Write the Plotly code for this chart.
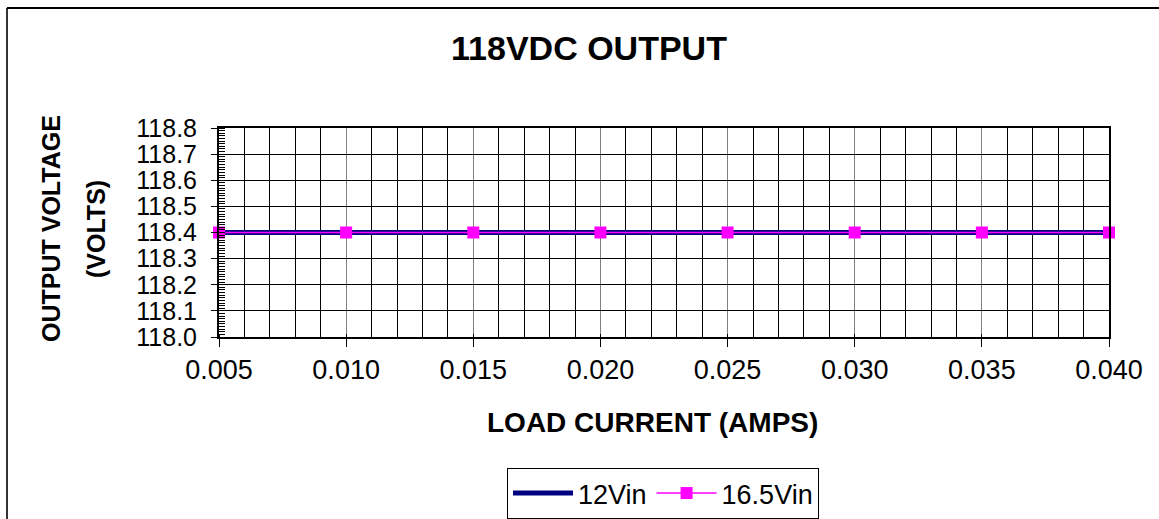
import plotly.graph_objects as go

load_current = [0.005, 0.010, 0.015, 0.020, 0.025, 0.030, 0.035, 0.040]
v_12vin = [118.4, 118.4, 118.4, 118.4, 118.4, 118.4, 118.4, 118.4]
v_16_5vin = [118.4, 118.4, 118.4, 118.4, 118.4, 118.4, 118.4, 118.4]

FONT = "Arial, Liberation Sans, sans-serif"
W, H = 1159, 519
L, R, T, B = 219, 50, 128, 182
pw, ph = W - L - R, H - T - B

def px_x(p):
    return (p - L) / pw

def px_y(p):
    return (H - B - p) / ph

fig = go.Figure()
fig.add_trace(go.Scatter(x=load_current, y=v_12vin, name="12Vin", mode="lines",
                         line=dict(color="#000080", width=5), cliponaxis=False))
fig.add_trace(go.Scatter(x=load_current, y=v_16_5vin, name="16.5Vin", mode="lines+markers",
                         line=dict(color="#FF00FF", width=1.5),
                         marker=dict(symbol="square", size=12, color="#FF00FF"),
                         cliponaxis=False))

fig.update_layout(
    template="none",
    width=W, height=H,
    margin=dict(l=L, r=R, t=T, b=B, autoexpand=False),
    paper_bgcolor="white", plot_bgcolor="white",
    font=dict(family=FONT, color="black", size=24),
    showlegend=True,
    legend=dict(orientation="h", x=663 / W, xref="container", y=1 - 468 / H, yref="container",
                xanchor="center", yanchor="top",
                bordercolor="black", borderwidth=1, font=dict(size=27, family=FONT),
                itemwidth=60, bgcolor="white"),
    xaxis=dict(range=[0.005, 0.040], dtick=0.005, tick0=0.005, tickformat=".3f",
               automargin=False,
               showgrid=True, gridcolor="#808080", gridwidth=1,
               showline=True, linecolor="black", linewidth=2, mirror=True,
               ticks="outside", ticklen=8, tickcolor="black",
               tickfont=dict(size=27, family=FONT), zeroline=False,
               minor=dict(dtick=0.001, showgrid=True, gridcolor="black", gridwidth=1,
                          ticks="inside", ticklen=3, tickcolor="black")),
    yaxis=dict(range=[118.0, 118.8], dtick=0.1, tick0=118.0, tickformat=".1f",
               automargin=False, ticklabelstandoff=9,
               showgrid=True, gridcolor="black", gridwidth=1,
               showline=True, linecolor="black", linewidth=2, mirror=True,
               ticks="outside", ticklen=6, tickcolor="black",
               tickfont=dict(size=25, family=FONT), zeroline=False,
               minor=dict(dtick=0.01, showgrid=False, ticks="inside", ticklen=6,
                          tickcolor="black", tickwidth=1)),
    title=dict(text="<b>118VDC OUTPUT</b>", x=589 / W, xref="container", xanchor="center",
               y=1 - 48 / H, yref="container", yanchor="middle",
               font=dict(size=34, family=FONT, color="black")),
)

fig.add_annotation(text="<b>LOAD CURRENT (AMPS)</b>", xref="paper", yref="paper",
                   x=px_x(652), y=px_y(422), xanchor="center", yanchor="middle",
                   showarrow=False, font=dict(size=28, family=FONT, color="black"))
fig.add_annotation(text="<b>OUTPUT VOLTAGE</b>", xref="paper", yref="paper",
                   x=px_x(51), y=px_y(229), xanchor="center", yanchor="middle",
                   textangle=-90, showarrow=False,
                   font=dict(size=25, family=FONT, color="black"))
fig.add_annotation(text="<b>(VOLTS)</b>", xref="paper", yref="paper",
                   x=px_x(96), y=px_y(229), xanchor="center", yanchor="middle",
                   textangle=-90, showarrow=False,
                   font=dict(size=25, family=FONT, color="black"))

# outer chart-area border (left and top edges visible)
fig.add_shape(type="line", xref="paper", yref="paper",
              x0=px_x(7), x1=px_x(7), y0=px_y(8), y1=px_y(530),
              line=dict(color="#333333", width=2))
fig.add_shape(type="line", xref="paper", yref="paper",
              x0=px_x(7), x1=px_x(1170), y0=px_y(8), y1=px_y(8),
              line=dict(color="black", width=2))

fig.write_html("out.html", config={"displayModeBar": False},
               post_script="document.body.style.margin='0';")
